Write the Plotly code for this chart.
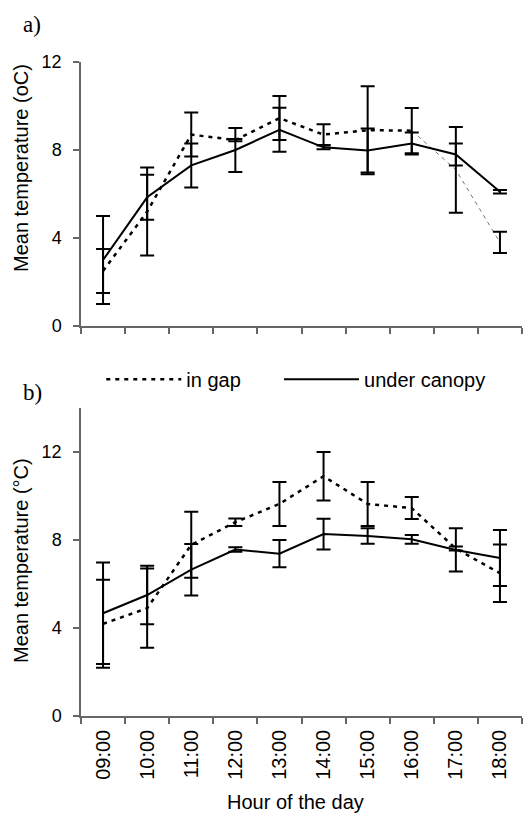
import plotly.graph_objects as go

# --- data ---
hours = ["09:00", "10:00", "11:00", "12:00", "13:00",
         "14:00", "15:00", "16:00", "17:00", "18:00"]

# a) air temperature
gap_a = [2.5, 5.2, 8.7, 8.45, 9.45, 8.7, 8.9, 8.88, 7.1, 3.8]
gap_a_err = [1.0, 2.0, 1.0, 0.05, 1.0, 0.47, 2.0, 1.03, 1.95, 0.48]
canopy_a = [3.0, 5.85, 7.3, 8.0, 8.92, 8.12, 7.98, 8.3, 7.8, 6.1]
canopy_a_err = [2.0, 1.02, 1.0, 1.0, 1.0, 0.08, 1.0, 0.5, 0.5, 0.08]

# b) second set
gap_b = [4.19, 4.9, 7.78, 8.81, 9.64, 10.9, 9.64, 9.45, 7.61, 6.49]
gap_b_err = [2.0, 1.8, 1.5, 0.17, 1.0, 1.1, 1.0, 0.5, 0.09, 1.31]
canopy_b = [4.67, 5.5, 6.65, 7.57, 7.38, 8.27, 8.18, 8.03, 7.55, 7.18]
canopy_b_err = [2.31, 1.33, 1.17, 0.1, 0.62, 0.7, 0.35, 0.2, 0.98, 1.27]

FONT = "Liberation Sans, Arial, sans-serif"
DOTS = "4px,5px"

fig = go.Figure()


def err_trace(y, err, xa, ya):
    return go.Scatter(
        x=hours, y=y, mode="markers", marker=dict(size=1, color="rgba(0,0,0,0)"),
        error_y=dict(type="data", array=err, color="black", thickness=2, width=7),
        xaxis=xa, yaxis=ya, showlegend=False, hoverinfo="skip")


# --- panel a ---
fig.add_trace(go.Scatter(x=hours[:8], y=gap_a[:8], mode="lines", name="in gap",
                         line=dict(color="black", width=2.5, dash=DOTS),
                         xaxis="x", yaxis="y", showlegend=True, legend="legend"))
fig.add_trace(go.Scatter(x=hours[7:], y=gap_a[7:], mode="lines",
                         line=dict(color="#777", width=1, dash="4px,4px"),
                         xaxis="x", yaxis="y", showlegend=False))
fig.add_trace(go.Scatter(x=hours, y=canopy_a, mode="lines", name="under canopy",
                         line=dict(color="black", width=2),
                         xaxis="x", yaxis="y", showlegend=True, legend="legend2"))
fig.add_trace(err_trace(gap_a, gap_a_err, "x", "y"))
fig.add_trace(err_trace(canopy_a, canopy_a_err, "x", "y"))

# --- panel b ---
fig.add_trace(go.Scatter(x=hours, y=gap_b, mode="lines",
                         line=dict(color="black", width=2.5, dash=DOTS),
                         xaxis="x2", yaxis="y2", showlegend=False))
fig.add_trace(go.Scatter(x=hours, y=canopy_b, mode="lines",
                         line=dict(color="black", width=2),
                         xaxis="x2", yaxis="y2", showlegend=False))
fig.add_trace(err_trace(gap_b, gap_b_err, "x2", "y2"))
fig.add_trace(err_trace(canopy_b, canopy_b_err, "x2", "y2"))

axis_common = dict(showline=True, linecolor="#666", linewidth=1.5, showgrid=False,
                   zeroline=False, ticks="outside", ticklen=6, tickcolor="#666",
                   tickwidth=1.5, automargin=False,
                   tickfont=dict(family=FONT, size=18, color="black"))

legend_common = dict(orientation="h", y=0.515, xanchor="left", yanchor="middle",
                     itemwidth=75, font=dict(family=FONT, size=20),
                     bgcolor="rgba(0,0,0,0)")

# the page body has an 8px margin, so the figure is drawn 8px smaller
fig.update_layout(
    width=523, height=805,
    margin=dict(l=73, r=9, t=54, b=97),
    plot_bgcolor="white", paper_bgcolor="white",
    font=dict(family=FONT, size=20, color="black"),
    xaxis=dict(axis_common, domain=[0, 1], anchor="y", type="category",
               tickson="boundaries", showticklabels=False, range=[-0.5, 9.5]),
    yaxis=dict(axis_common, domain=[0.5963, 1], anchor="x", range=[0, 12],
               tickvals=[0, 4, 8, 12], ticklabelstandoff=8),
    xaxis2=dict(axis_common, domain=[0, 1], anchor="y2", type="category",
                tickson="boundaries", tickangle=-90, range=[-0.5, 9.5],
                tickfont=dict(family=FONT, size=20, color="black"),
                ticklabelstandoff=4),
    yaxis2=dict(axis_common, domain=[0, 0.4709], anchor="x2", range=[0, 14],
                tickvals=[0, 4, 8, 12], ticklabelstandoff=8),
    legend=dict(legend_common, x=0.046),
    legend2=dict(legend_common, x=0.449),
    showlegend=True,
)

fig.add_annotation(text="Mean temperature (oC)", textangle=-90, xref="paper", yref="paper",
                   x=-0.136, y=0.838, xanchor="center", yanchor="middle", showarrow=False,
                   font=dict(family=FONT, size=20))
fig.add_annotation(text="Mean temperature (°C)", textangle=-90, xref="paper", yref="paper",
                   x=-0.136, y=0.237, xanchor="center", yanchor="middle", showarrow=False,
                   font=dict(family=FONT, size=20))
fig.add_annotation(text="Hour of the day", xref="paper", yref="paper",
                   x=0.4875, y=-0.1320, xanchor="center", yanchor="middle", showarrow=False,
                   font=dict(family=FONT, size=20))
fig.add_annotation(text="a)", xref="paper", yref="paper", x=-0.111, y=1.0566,
                   xanchor="center", yanchor="middle", showarrow=False,
                   font=dict(family="Liberation Serif, serif", size=23))
fig.add_annotation(text="b)", xref="paper", yref="paper", x=-0.111, y=0.4939,
                   xanchor="center", yanchor="middle", showarrow=False,
                   font=dict(family="Liberation Serif, serif", size=23))

fig.write_html("out.html")
